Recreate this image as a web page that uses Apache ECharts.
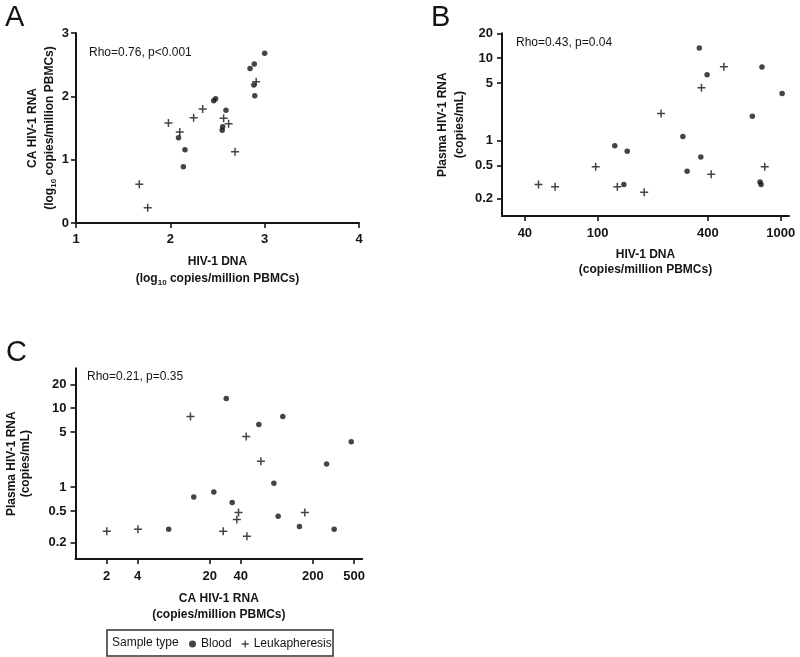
<!DOCTYPE html>
<html><head><meta charset="utf-8">
<script src="https://cdn.jsdelivr.net/npm/echarts@6/dist/echarts.min.js"></script>
<style>html,body{margin:0;padding:0;background:#fff}#c{width:800px;height:657px}</style>
</head><body><div id="c"></div>
<script>
// ---------- Panel A: log10 HIV-1 DNA vs log10 CA HIV-1 RNA ----------
const aBloodX = [3.00, 2.845, 2.89, 2.885, 2.895, 2.46, 2.48, 2.59, 2.555, 2.55, 2.087, 2.155, 2.138];
const aBloodY = [2.68, 2.44, 2.51, 2.18, 2.01, 1.93, 1.96, 1.78, 1.52, 1.465, 1.345, 1.155, 0.89];
const aLeukX  = [2.91, 2.343, 2.247, 1.98, 2.10, 2.565, 2.618, 2.686, 1.671, 1.76];
const aLeukY  = [2.23, 1.80, 1.663, 1.58, 1.435, 1.653, 1.568, 1.126, 0.611, 0.242];
const aTicksX = [1, 2, 3, 4];
const aTicksY = [0, 1, 2, 3];

// ---------- Panel B: HIV-1 DNA vs plasma HIV-1 RNA ----------
const bBloodX = [359, 396, 790, 1018, 700, 292, 124, 145, 366, 308, 139, 771, 781];
const bBloodY = [13.3, 6.3, 7.85, 3.74, 1.99, 1.13, 0.87, 0.75, 0.64, 0.43, 0.296, 0.319, 0.296];
const bLeukX  = [489, 369, 222, 97.5, 417, 818, 47.5, 58.5, 128, 179.5];
const bLeukY  = [7.9, 4.38, 2.14, 0.485, 0.395, 0.485, 0.296, 0.278, 0.278, 0.239];
const bTicksX = [40, 100, 400, 1000];
const bTicksY = [0.2, 0.5, 1, 5, 10, 20];

// ---------- Panel C: CA HIV-1 RNA vs plasma HIV-1 RNA ----------
const cBloodX = [28.9, 102, 59.8, 470, 271, 83.6, 21.9, 14.0, 33.0, 92, 148, 321, 8.0];
const cBloodY = [13.3, 7.85, 6.2, 3.75, 1.97, 1.12, 0.87, 0.75, 0.64, 0.43, 0.318, 0.294, 0.294];
const cLeukX  = [13.0, 45.1, 62.6, 38, 36.6, 167, 4.03, 2.01, 27, 45.8];
const cLeukY  = [7.85, 4.38, 2.13, 0.48, 0.39, 0.48, 0.294, 0.277, 0.277, 0.24];
const cTicksX = [2, 4, 20, 40, 200, 500];
const cTicksY = [0.2, 0.5, 1, 5, 10, 20];

const rhoTexts = ['Rho=0.76, p<0.001', 'Rho=0.43, p=0.04', 'Rho=0.21, p=0.35'];
const panelLetters = ['A', 'B', 'C'];
const seriesNames = ['Blood', 'Leukapheresis'];

const FONT = '"Liberation Sans", Arial, Helvetica, sans-serif';
const INK = '#151515';
const PLUS = 'path://M3.25,0H4.75V3.25H8V4.75H4.75V8H3.25V4.75H0V3.25H3.25Z';
const lg = Math.log10;
const id = v => v;

function fmtLog(v) { return String(+Math.pow(10, v).toPrecision(3)); }

function richName(lh) {
  return {
    fontFamily: FONT, color: INK,
    rich: {
      b: { fontSize: 12, fontWeight: 'bold', fontFamily: FONT, color: INK, lineHeight: lh },
      s: { fontSize: 8, fontWeight: 'bold', fontFamily: FONT, color: INK, verticalAlign: 'bottom' }
    }
  };
}

function axis(opts) {
  const base = {
    gridIndex: opts.grid, type: 'value', min: opts.min, max: opts.max,
    name: opts.name, nameLocation: 'middle', nameGap: opts.nameGap,
    nameTextStyle: richName(opts.lh),
    axisLine: { show: true, onZero: false, lineStyle: { color: INK, width: 2 } },
    axisTick: { show: true, length: 5, lineStyle: { color: INK, width: 1.6 } },
    axisLabel: { show: true, fontSize: 13, fontWeight: 'bold', fontFamily: FONT, color: INK, margin: opts.margin },
    splitLine: { show: false }
  };
  if (opts.ticks && opts.log) {
    const vals = opts.ticks.map(lg);
    base.axisTick.customValues = vals;
    base.axisLabel.customValues = vals;
    base.axisLabel.formatter = fmtLog;
  } else {
    base.interval = 1;
  }
  return base;
}

function pts(xs, ys, f) { return xs.map((x, i) => [f(x), f(ys[i])]); }

function pair(gi, bx, by, lx, ly, f) {
  return [
    { type: 'scatter', name: seriesNames[0], xAxisIndex: gi, yAxisIndex: gi, data: pts(bx, by, f),
      symbol: 'circle', symbolSize: 5.5, itemStyle: { color: INK }, silent: true },
    { type: 'scatter', name: seriesNames[1], xAxisIndex: gi, yAxisIndex: gi, data: pts(lx, ly, f),
      symbol: PLUS, symbolSize: 8, itemStyle: { color: INK }, silent: true }
  ];
}

const chart = echarts.init(document.getElementById('c'), null, { renderer: 'canvas' });
const T = (s) => '{b|' + s + '}';
const txt = (s, x, y, size) => ({ type: 'text', x: x, y: y,
  style: { text: s, fontSize: size, fontFamily: FONT, fill: INK, verticalAlign: 'middle', align: 'left' } });

chart.setOption({
  backgroundColor: '#fff',
  animation: false,
  grid: [
    { left: 76, top: 33, width: 283, height: 190 },
    { left: 502, top: 33.3, width: 287, height: 182.8 },
    { left: 75.5, top: 368.3, width: 286.7, height: 190.8 }
  ],
  xAxis: [
    axis({ grid: 0, min: aTicksX[0], max: aTicksX[aTicksX.length - 1], margin: 10, nameGap: 30,
      lh: 17, name: T('HIV-1 DNA') + '\n' + T('(log') + '{s|10}' + T(' copies/million PBMCs)') }),
    axis({ grid: 1, log: true, ticks: bTicksX, min: lg(30), max: lg(1110), margin: 11, nameGap: 31,
      lh: 15, name: T('HIV-1 DNA') + '\n' + T('(copies/million PBMCs)') }),
    axis({ grid: 2, log: true, ticks: cTicksX, min: lg(1), max: lg(600), margin: 11, nameGap: 32,
      lh: 16, name: T('CA HIV-1 RNA') + '\n' + T('(copies/million PBMCs)') })
  ],
  yAxis: [
    axis({ grid: 0, min: aTicksY[0], max: aTicksY[aTicksY.length - 1], margin: 7, nameGap: 18,
      lh: 17, name: T('CA HIV-1 RNA') + '\n' + T('(log') + '{s|10}' + T(' copies/million PBMCs)') }),
    axis({ grid: 1, log: true, ticks: bTicksY, min: lg(0.123), max: lg(20), margin: 9, nameGap: 34,
      lh: 17, name: T('Plasma HIV-1 RNA') + '\n' + T('(copies/mL)') }),
    axis({ grid: 2, log: true, ticks: cTicksY, min: lg(0.123), max: lg(32), margin: 9, nameGap: 43,
      lh: 14, name: T('Plasma HIV-1 RNA') + '\n' + T('(copies/mL)') })
  ],
  legend: {
    data: seriesNames, left: 189, top: 638, orient: 'horizontal', padding: 0,
    itemWidth: 7, itemHeight: 7, itemGap: 10, selectedMode: false,
    textStyle: { fontSize: 12, fontFamily: FONT, color: INK }
  },
  graphic: [
    txt(panelLetters[0], 5, 18, 29),
    txt(panelLetters[1], 431, 18, 29),
    txt(panelLetters[2], 6, 353, 29),
    txt(rhoTexts[0], 89, 53, 12),
    txt(rhoTexts[1], 516, 43, 12),
    txt(rhoTexts[2], 87, 377, 12),
    { type: 'rect', shape: { x: 107, y: 630, width: 226, height: 26 },
      style: { fill: 'none', stroke: '#333', lineWidth: 1.5 } },
    txt('Sample type', 112, 643, 12)
  ],
  series: [].concat(
    pair(0, aBloodX, aBloodY, aLeukX, aLeukY, id),
    pair(1, bBloodX, bBloodY, bLeukX, bLeukY, lg),
    pair(2, cBloodX, cBloodY, cLeukX, cLeukY, lg)
  )
});
</script>
</body></html>
